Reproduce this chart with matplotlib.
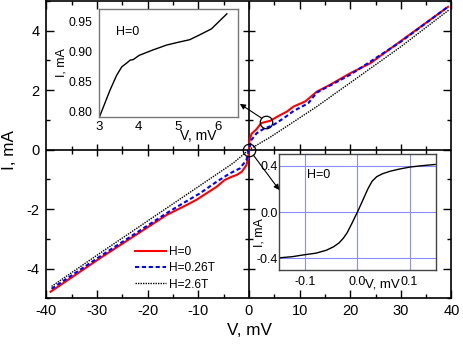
import numpy as np
import matplotlib
matplotlib.use('Agg')
import matplotlib.pyplot as plt
from matplotlib.ticker import MultipleLocator

plt.rcParams['font.family'] = ['Liberation Sans', 'DejaVu Sans']
plt.rcParams['axes.unicode_minus'] = False

# main I-V curves (V in mV, I in mA)
v_h0 = [-39.2, -29.5, -22.9, -16.3, -14.3, -12.3, -10.4, -8.4, -6.4, -4.8, -3.4, -2.4,
        -1.4, -0.5, -0.1, 0.0, 0.1, 0.5, 1.5, 2.4, 3.2, 4.2, 5.6, 7.5, 8.8, 11.1, 13.4,
        16.0, 20.0, 24.0, 29.9, 39.3]
i_h0 = [-4.78, -3.66, -2.93, -2.20, -2.03, -1.86, -1.69, -1.47, -1.25, -1.02, -0.91, -0.85,
        -0.74, -0.52, -0.24, 0.0, 0.30, 0.53, 0.69, 0.89, 0.93, 0.97, 1.11, 1.28, 1.45, 1.62,
        1.95, 2.18, 2.57, 2.91, 3.64, 4.80]
v_h026 = [-39.0, -29.5, -22.9, -16.3, -13.0, -9.7, -6.4, -3.8, -1.8, -0.5, 0.0, 0.5, 1.5,
          2.8, 4.8, 6.8, 8.8, 11.7, 13.4, 20.0, 29.9, 39.5]
i_h026 = [-4.68, -3.60, -2.87, -2.14, -1.80, -1.47, -1.08, -0.80, -0.63, -0.35, 0.0, 0.33,
          0.55, 0.69, 0.83, 1.05, 1.30, 1.56, 1.92, 2.52, 3.62, 4.83]
v_h26 = [-39.0, -29.5, -16.3, -3.1, 0.0, 4.2, 13.4, 29.9, 39.5]
i_h26 = [-4.60, -3.49, -1.97, -0.45, 0.0, 0.42, 1.45, 3.45, 4.70]

# upper inset: H=0 around the 3-6 mV feature
v_in1 = [3.0, 3.27, 3.44, 3.57, 3.69, 3.78, 3.86, 4.01, 4.36, 4.70, 4.95, 5.29, 5.54,
         5.84, 6.23]
i_in1 = [0.79, 0.835, 0.86, 0.874, 0.880, 0.885, 0.886, 0.893, 0.902, 0.910, 0.914,
         0.919, 0.927, 0.937, 0.962]

# lower inset: H=0 near zero bias
v_in2 = [-0.15, -0.125, -0.104, -0.08, -0.06, -0.046, -0.035, -0.027, -0.020, -0.012,
         -0.005, 0.0, 0.005, 0.012, 0.020, 0.028, 0.037, 0.048, 0.063, 0.08, 0.101, 0.125,
         0.149]
i_in2 = [-0.395, -0.385, -0.37, -0.355, -0.33, -0.30, -0.265, -0.225, -0.18, -0.11,
         -0.045, 0.0, 0.05, 0.12, 0.20, 0.265, 0.305, 0.33, 0.352, 0.37, 0.388, 0.40, 0.41]

fig = plt.figure(figsize=(4.63, 3.48), dpi=100)
ax = fig.add_axes([0.1004, 0.1428, 0.8747, 0.8543])

ax.plot(v_h0, i_h0, color='#ff0000', lw=1.5, label='H=0')
ax.plot(v_h026, i_h026, color='#0000ff', lw=1.5, ls=(0, (2, 1.3)), label='H=0.26T')
ax.plot(v_h26, i_h26, color='black', lw=1.0, ls=(0, (1, 0.8)), label='H=2.6T')

ax.set_xlim(-40, 40)
ax.set_ylim(-5, 5)
ax.xaxis.set_major_locator(MultipleLocator(10))
ax.xaxis.set_minor_locator(MultipleLocator(5))
ax.yaxis.set_major_locator(MultipleLocator(2))
ax.yaxis.set_minor_locator(MultipleLocator(1))
ax.tick_params(which='both', direction='in', top=True, right=True, width=1.0)
ax.tick_params(which='major', length=6)
ax.tick_params(which='minor', length=3)
ax.tick_params(axis='x', labelsize=10.5, pad=4)
ax.tick_params(axis='y', labelsize=10.5, pad=5)
for side in ax.spines.values():
    side.set_linewidth(1.2)
ax.set_xlabel('V, mV', fontsize=12.3, labelpad=4)
ax.set_ylabel('I, mA', fontsize=12.3)
ax.yaxis.set_label_coords(-0.072, 0.5)

# zero axes with crossing ticks
ax.axhline(0, color='black', lw=1.2, zorder=1)
ax.axvline(0, color='black', lw=1.2, zorder=1)
xmaj = [x for x in range(-30, 31, 10) if x != 0]
xmin = list(range(-35, 36, 10))
ymaj = [-4, -2, 2, 4]
ymin = [-3, -1, 1, 3]
ax.plot(xmaj, [0] * len(xmaj), ls='none', marker='|', ms=9, mew=1.0, color='black')
ax.plot(xmin, [0] * len(xmin), ls='none', marker='|', ms=6, mew=1.0, color='black')
ax.plot([0] * len(ymaj), ymaj, ls='none', marker='_', ms=9, mew=1.0, color='black')
ax.plot([0] * len(ymin), ymin, ls='none', marker='_', ms=6, mew=1.0, color='black')

# circles marking zoomed regions and arrows to insets
ax.plot([0.0, 3.27], [0.0, 0.92], ls='none', marker='o', ms=9, mfc='none', mec='black', mew=0.9)
arrow = dict(arrowstyle='-|>', color='black', lw=0.8, mutation_scale=8, shrinkA=0, shrinkB=0)
ax.annotate('', xy=(-1.8, 1.54), xytext=(2.5, 1.06), arrowprops=arrow)
ax.annotate('', xy=(6.0, -1.36), xytext=(0.85, -0.18), arrowprops=arrow)

ax.legend(loc='upper left', bbox_to_anchor=(0.2185, 0.175), frameon=False, fontsize=8.6,
          handlelength=2.6, handletextpad=0.25, labelspacing=0.35, borderpad=0,
          borderaxespad=0)

# upper inset
ins1 = fig.add_axes([0.2145, 0.6629, 0.2985, 0.3112])
ins1.plot(v_in1, i_in1, color='black', lw=1.0)
ins1.set_xlim(3, 6.5)
ins1.set_ylim(0.79, 0.97)
ins1.set_xticks([3, 4, 5, 6])
ins1.set_yticks([0.80, 0.85, 0.90, 0.95])
ins1.set_yticklabels(['0.80', '0.85', '0.90', '0.95'])
ins1.tick_params(length=0, labelsize=9.5)
ins1.tick_params(axis='y', pad=5, labelsize=8.8)
ins1.tick_params(axis='x', pad=3)
for side in ins1.spines.values():
    side.set_color('#777777')
    side.set_linewidth(1.0)
ins1.text(0.714, -0.175, 'V, mV', transform=ins1.transAxes, fontsize=10, ha='center', va='center')
ins1.text(-0.275, 0.506, 'I, mA', transform=ins1.transAxes, fontsize=9, ha='center',
          va='center', rotation=90)
ins1.text(0.121, 0.788, 'H=0', transform=ins1.transAxes, fontsize=9, ha='left', va='center')

# lower inset
ins2 = fig.add_axes([0.6032, 0.2241, 0.3378, 0.3333])
ins2.plot(v_in2, i_in2, color='black', lw=1.0)
ins2.set_xlim(-0.15, 0.15)
ins2.set_ylim(-0.5, 0.5)
ins2.set_xticks([-0.1, 0.0, 0.1])
ins2.set_yticks([-0.4, 0.0, 0.4])
ins2.set_xticklabels(['-0.1', '0.0', '0.1'])
ins2.set_yticklabels(['-0.4', '0.0', '0.4'])
ins2.grid(True, color='#8c8cff', lw=0.8)
ins2.set_axisbelow(True)
ins2.tick_params(length=0, labelsize=9)
ins2.tick_params(axis='y', pad=1)
ins2.tick_params(axis='x', pad=4)
for side in ins2.spines.values():
    side.set_color('#444444')
    side.set_linewidth(1.0)
ins2.text(0.659, -0.129, 'V, mV', transform=ins2.transAxes, fontsize=9.5, ha='center', va='center')
ins2.text(-0.125, 0.322, 'I, mA', transform=ins2.transAxes, fontsize=9, ha='center',
          va='center', rotation=90)
ins2.text(0.175, 0.819, 'H=0', transform=ins2.transAxes, fontsize=9, ha='left', va='center')

fig.savefig('out.png', dpi=100)
